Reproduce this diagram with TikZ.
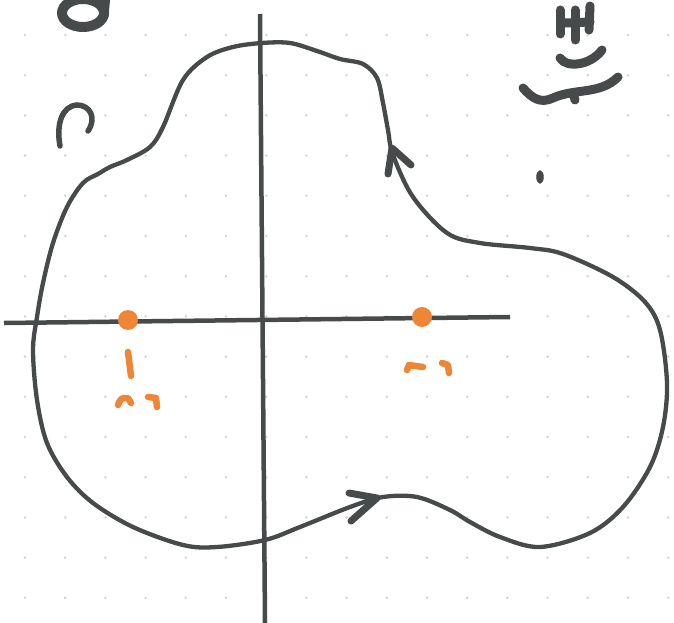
\documentclass[tikz,border=0pt]{standalone}
\usetikzlibrary{calc}
\definecolor{ink}{HTML}{474A4B}
\definecolor{orng}{HTML}{EE8636}
\definecolor{dotc}{HTML}{D2D4D4}
\begin{document}
\begin{tikzpicture}[x=1pt,y=-1pt,
  curvestyle/.style={draw=ink, line width=4.3pt, line cap=round, line join=round},
  axisstyle/.style={draw=ink, line width=4.5pt},
  chevron/.style={draw=ink, line width=7pt, line cap=round, line join=round},
  penstroke/.style={draw=ink, line width=9pt, line cap=round, line join=round},
  orngstroke/.style={draw=orng, line width=6.5pt, line cap=round, line join=round},
  pointdot/.style={circle, fill=orng, inner sep=0pt, minimum size=20pt}]
\useasboundingbox (0,0) rectangle (674,623);
\fill[white] (0,0) rectangle (674,623);
% dotted grid
\foreach \i in {0,...,16}{\foreach \j in {0,...,15}{
  \fill[dotc] (25+40.2*\i, 35+40.2*\j) circle (1.4);}}
% axes
\coordinate (xl) at (4,323);
\coordinate (xr) at (510,317);
\coordinate (yt) at (260,14);
\coordinate (yb) at (265,623);
\draw[axisstyle] (xl) -- (xr);
\draw[axisstyle] (yt) -- (yb);
% contour C
\draw[curvestyle] plot[smooth cycle, tension=0.55] coordinates {
(262,43) (290,43) (317,51) (340,59) (363,64) (377,78) (383,103) (388,130)
(393,155) (413,197) (447,233) (480,243) (530,248) (563,254) (613,277)
(645,302) (660,330) (667,383) (663,427) (650,467) (623,507) (590,533)
(540,547) (500,537) (470,522) (450,510) (417,497) (383,497) (350,507)
(300,527) (265,540) (217,547) (183,545) (133,527) (93,503) (67,477)
(47,443) (37,400) (33,350) (37,317) (43,283) (53,243) (67,207) (83,183)
(98,174) (110,167) (127,160) (150,147) (163,127) (183,80) (207,57) (233,47)};
% arrowheads
\coordinate (a1) at (392,148);
\draw[chevron] (388,174) -- (a1) -- (411,165);
\coordinate (a2) at (377,498);
\draw[chevron] (349,493) -- (a2) -- (351,521);
% orange points
\node[pointdot] (p1) at (128,320) {};
\node[pointdot] (p2) at (422,317) {};
% orange label strokes
\draw[orngstroke] (128,352) -- (131,376);
\draw[orngstroke] (118,405) .. controls (121,398) .. (128,398) -- (131,403);
\draw[orngstroke] (148,397) -- (156,398) -- (157,407);
\draw[orngstroke] (407,370) -- (409,365) -- (423,367);
\draw[orngstroke] (442,363) -- (448,365) -- (449,373);
% C label
\draw[draw=ink, line width=5.5pt, line cap=round]
  (60,146) .. controls (56,124) and (62,106) .. (77,105)
  .. controls (90,105) and (97,118) .. (88,131);
% partial letter at top
\draw[draw=ink, line width=10pt] (83,13) ellipse (21 and 14);
\draw[draw=ink, line width=9pt, line cap=round] (106,-5) -- (104,16);
% top right marks
\draw[penstroke] (560,10) -- (560,34);
\draw[penstroke] (575,10) -- (575,40);
\draw[penstroke] (590,6) -- (589,30);
\draw[penstroke] (565,23) -- (590,22);
\draw[penstroke] (560,58) .. controls (566,68) and (590,66) .. (602,50);
\draw[penstroke] (523,88) .. controls (532,98) and (540,104) .. (553,98)
  .. controls (575,88) and (600,95) .. (618,77);
\draw[penstroke] (573,93) -- (575,100);
\draw[ink, fill=ink] (540,177) ellipse (3.5 and 6.5);
\end{tikzpicture}
\end{document}
